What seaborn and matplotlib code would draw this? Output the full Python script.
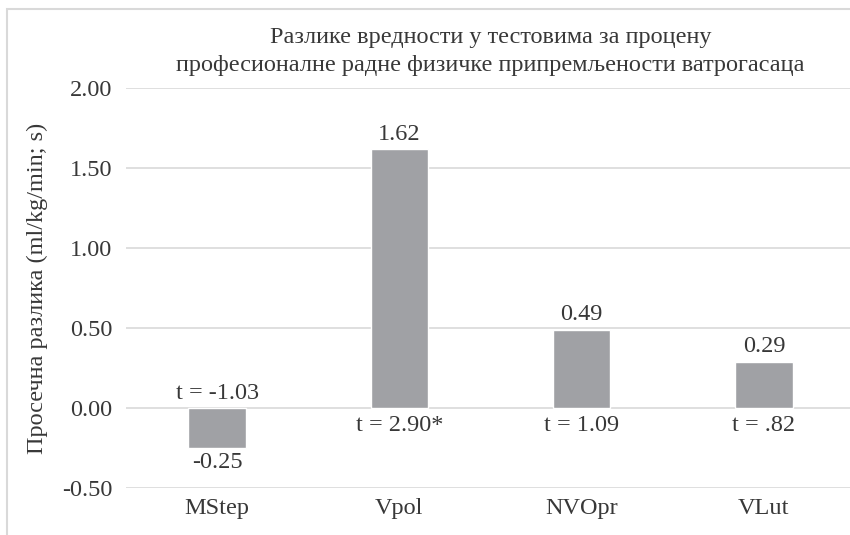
import pandas as pd
import matplotlib.pyplot as plt
import matplotlib.patches as mpatches
import seaborn as sns

# Data
tests = ["MStep", "Vpol", "NVOpr", "VLut"]
mean_diff = [-0.25, 1.62, 0.49, 0.29]
value_labels = ["-0.25", "1.62", "0.49", "0.29"]
t_labels = ["t = -1.03", "t = 2.90*", "t = 1.09", "t = .82"]

data = pd.DataFrame({"test": tests, "diff": mean_diff})

sns.set_theme(style="white")
plt.rcParams['font.family'] = ['Liberation Serif', 'DejaVu Serif']
text_color = "#383838"
fs = 17.5

fig = plt.figure(figsize=(8.5, 5.35), dpi=100)
ax = fig.add_axes([126 / 850, 1 - 488 / 535, (855 - 126) / 850, 400 / 535])

sns.barplot(x="test", y="diff", data=data, color="#a0a1a5", saturation=1,
            width=0.315, ax=ax, zorder=3)

ax.set_ylim(-0.5, 2.0)
ax.set_xlim(-0.5, 3.5)
ax.set_yticks([-0.5, 0, 0.5, 1.0, 1.5, 2.0])
ax.set_yticklabels([f"{v:.2f}" for v in ax.get_yticks()])
ax.yaxis.grid(True, color="#d9d9d9", linewidth=1.2, zorder=0)
ax.set_axisbelow(True)
for s in ax.spines.values():
    s.set_visible(False)
ax.tick_params(axis="both", length=0, labelsize=fs, colors=text_color, pad=7)
ax.tick_params(axis="y", pad=10)

ax.set_xlabel("")
ax.set_ylabel("Просечна разлика (ml/kg/min; s)", fontsize=fs, color=text_color, labelpad=10)
ax.set_title("Разлике вредности у тестовима за процену\n"
             "професионалне радне физичке припремљености ватрогасаца",
             fontsize=fs, color=text_color, pad=12, linespacing=1.45)

for i, (v, vl, tl) in enumerate(zip(mean_diff, value_labels, t_labels)):
    if v >= 0:
        ax.annotate(vl, (i, v), xytext=(0, 3), textcoords="offset points",
                    ha="center", va="bottom", fontsize=fs, color=text_color)
        ax.annotate(tl, (i, 0), xytext=(0, -5), textcoords="offset points",
                    ha="center", va="top", fontsize=fs, color=text_color)
    else:
        ax.annotate(vl, (i, v), xytext=(0, -3), textcoords="offset points",
                    ha="center", va="top", fontsize=fs, color=text_color)
        ax.annotate(tl, (i, 0), xytext=(0, 3), textcoords="offset points",
                    ha="center", va="bottom", fontsize=fs, color=text_color)

# light chart-area border (cropped on the right and bottom)
fig.patches.append(mpatches.Rectangle((7 / 850, -0.05), 1.1, 1 - 9 / 535 + 0.05,
                                      transform=fig.transFigure, fill=False,
                                      edgecolor="#d9d9d9", linewidth=1.5))

plt.savefig("out.png", dpi=100)
